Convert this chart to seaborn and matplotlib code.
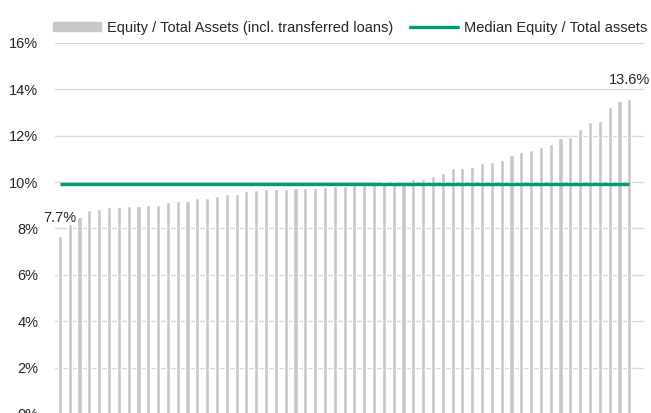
import matplotlib
matplotlib.use('Agg')
import matplotlib.pyplot as plt
import matplotlib.patches as mpatches
import matplotlib.lines as mlines
import seaborn as sns
import pandas as pd
from matplotlib.ticker import FuncFormatter

# equity / total assets per bank (%), sorted ascending
equity_ratio = [7.68, 8.17, 8.49, 8.79, 8.83, 8.93, 8.93, 8.97, 8.97, 9.02,
                9.03, 9.13, 9.18, 9.18, 9.31, 9.31, 9.41, 9.48, 9.48, 9.61,
                9.64, 9.69, 9.69, 9.69, 9.74, 9.74, 9.74, 9.79, 9.82, 9.84,
                9.86, 9.88, 9.90, 10.00, 10.02, 10.04, 10.12, 10.15, 10.25,
                10.38, 10.60, 10.60, 10.64, 10.83, 10.87, 10.93, 11.16, 11.29, 11.40,
                11.49, 11.66, 11.89, 11.95, 12.28, 12.60, 12.64, 13.23, 13.49, 13.60]
median_ratio = 9.9
y_ticks = [0, 2, 4, 6, 8, 10, 12, 14, 16]
label_bar = 'Equity / Total Assets (incl. transferred loans)'
label_median = 'Median Equity / Total assets'

BAR_COLOR = '#c8c8c8'
LINE_COLOR = '#009a73'
TEXT_COLOR = '#262626'
FS = 10.5

df = pd.DataFrame({'bank': range(len(equity_ratio)), 'ratio': equity_ratio})

sns.set_style('white')
plt.rcParams['font.family'] = ['Liberation Sans', 'DejaVu Sans']

fig = plt.figure(figsize=(6.51, 4.13), dpi=100)
ax = fig.add_axes([55 / 651, -0.9 / 413, 589 / 651, 371 / 413])

sns.barplot(x='bank', y='ratio', data=df, color=BAR_COLOR, width=0.42,
            saturation=1, ax=ax, zorder=2)
n = len(equity_ratio)
ax.hlines(median_ratio, 0, n - 1, color=LINE_COLOR, linewidth=2.4, zorder=3)

# one empty slot on the right, as in the original
ax.set_xlim(-0.5, n + 0.5)
ax.set_ylim(0, 16)
ax.set_yticks(y_ticks)
ax.yaxis.set_major_formatter(FuncFormatter(lambda v, p: '%d%%' % v))
ax.tick_params(axis='y', labelsize=FS, colors=TEXT_COLOR, length=0, pad=12)
ax.set_xticks([])
ax.set_xlabel('')
ax.set_ylabel('')
ax.grid(axis='y', color='#d9d9d9', linewidth=1, zorder=0)
ax.set_axisbelow(True)
sns.despine(ax=ax, left=True, bottom=True)

for i in (0, n - 1):
    ax.annotate('%.1f%%' % equity_ratio[i], (i, equity_ratio[i]),
                xytext=(0, 13), textcoords='offset points', ha='center',
                va='center', fontsize=FS, color=TEXT_COLOR)

h1 = mpatches.Patch(color=BAR_COLOR, label=label_bar)
h2 = mlines.Line2D([], [], color=LINE_COLOR, linewidth=2.4, label=label_median)
fig.legend(handles=[h1, h2], loc='center', bbox_to_anchor=(350 / 651, 1 - 28 / 413),
           ncol=2, frameon=False, fontsize=FS, handlelength=3.3, handleheight=0.55,
           handletextpad=0.4, columnspacing=1.2, borderpad=0, labelcolor=TEXT_COLOR)

fig.savefig('out.png', dpi=100)
